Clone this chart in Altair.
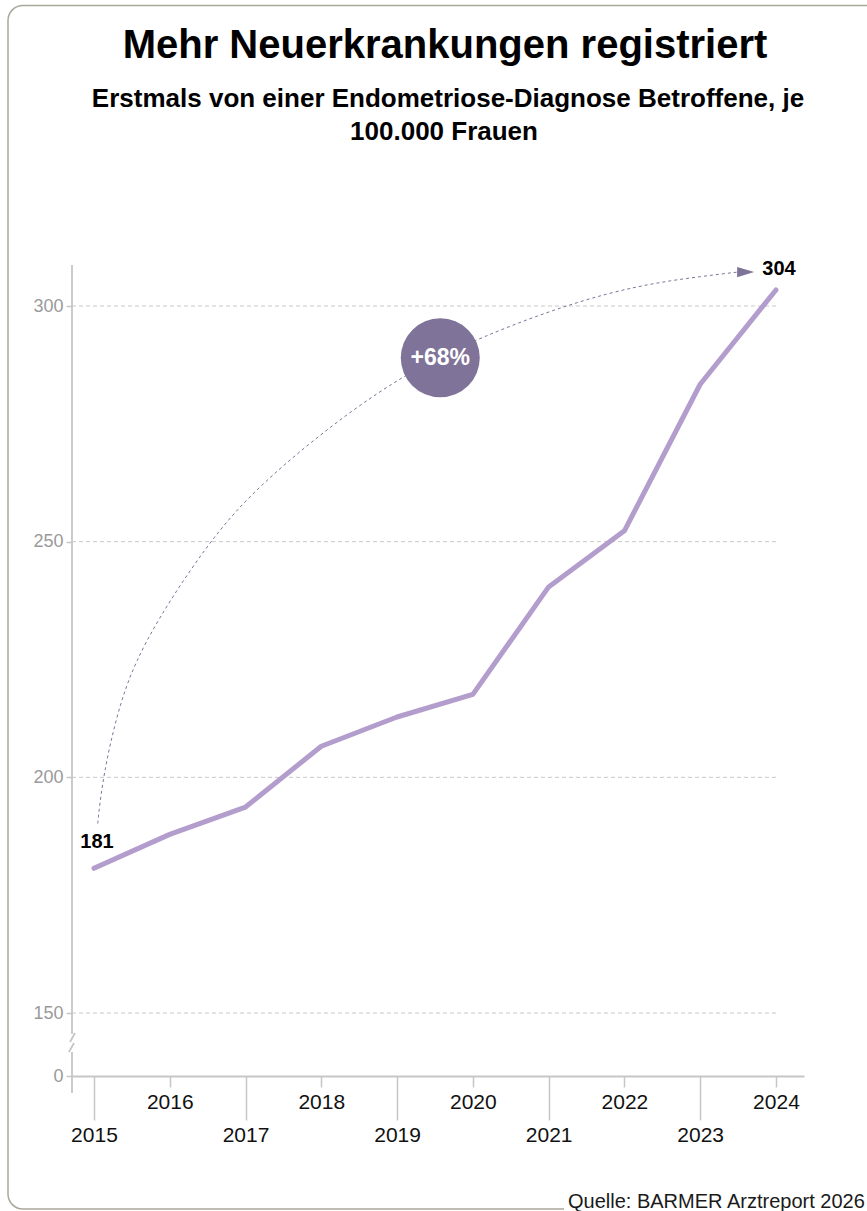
import altair as alt
import pandas as pd

# ---------------- data ----------------
years = [2015, 2016, 2017, 2018, 2019, 2020, 2021, 2022, 2023, 2024]
values = [180.7, 187.9, 193.7, 206.6, 212.8, 217.6, 240.4, 252.3, 283.4, 303.4]
y_ticks = [0, 150, 200, 250, 300]
grid_values = [150, 200, 250, 300]
end_label_first = "181"
end_label_last = "304"

# annotation: dashed arc from 2015 value to 2024 value (anchor points)
arc_year = [2015.05, 2015.06, 2015.12, 2015.30, 2015.60, 2016.50, 2017.23, 2018.77, 2020.05, 2021.85, 2023.17, 2023.50]
arc_value = [190.2, 192.0, 200.0, 213.6, 227.6, 249.9, 263.1, 282.8, 293.4, 303.8, 306.6, 307.2]
arrow_year = [2023.60]
arrow_value = [307.2]
badge_year = [2019.57]
badge_value = [289.0]
badge_text = ["+68%"]

title_text = "Mehr Neuerkrankungen registriert"
subtitle_lines = ["Erstmals von einer Endometriose-Diagnose Betroffene, je", "100.000 Frauen"]
source_text = "Quelle: BARMER Arztreport 2026"

# ---------------- layout ----------------
W, H = 732, 811
FONT = "Liberation Sans"
LINE_COLOR = "#b39dcc"
ACCENT = "#7f7399"
AXIS_GREY = "#c6c6c6"

xscale = alt.Scale(domain=[2014.71, 2024.37], nice=False, zero=False)
yscale = alt.Scale(domain=[0, 150, 300], range=[H, 748, 41], nice=False, zero=False)

x_axis = alt.Axis(
    values=years,
    format="d",
    title=None,
    grid=False,
    domainColor=AXIS_GREY,
    domainWidth=1.8,
    tickColor=AXIS_GREY,
    tickWidth=1.5,
    tickSize={"condition": {"test": "datum.value % 2 === 1", "value": 44}, "value": 11},
    labelPadding=4,
    labelFlush=False,
    labelFont=FONT,
    labelFontSize=21,
    labelColor="#111111",
    zindex=1,
)
y_axis = alt.Axis(
    values=y_ticks,
    title=None,
    domain=False,
    grid=False,
    tickColor=AXIS_GREY,
    tickSize=6,
    tickWidth=1.5,
    labelPadding=3,
    labelFont=FONT,
    labelFontSize=18,
    labelColor="#9a9a9a",
    zindex=1,
)

df = pd.DataFrame({"Jahr": years, "Wert": values})
df_grid = pd.DataFrame({"Wert": grid_values})
df_arc = pd.DataFrame({"Jahr": arc_year, "Wert": arc_value, "i": list(range(len(arc_year)))})
df_arrow = pd.DataFrame({"Jahr": arrow_year, "Wert": arrow_value})
df_badge = pd.DataFrame({"Jahr": badge_year, "Wert": badge_value, "t": badge_text})
one = pd.DataFrame({"a": [0]})

X = alt.X("Jahr:Q", scale=xscale, axis=x_axis)
Y = alt.Y("Wert:Q", scale=yscale, axis=y_axis)

frame = alt.Chart(one).mark_rect(
    fill="white", fillOpacity=0, stroke="#a9a79b", strokeWidth=1.5, cornerRadius=15
).encode(x=alt.value(-64), x2=alt.value(815), y=alt.value(-259.5), y2=alt.value(944))

source_bg = alt.Chart(one).mark_rect(fill="white").encode(
    x=alt.value(492), x2=alt.value(800), y=alt.value(930), y2=alt.value(952)
)

grid = alt.Chart(df_grid).mark_rule(color="#c8c8c8", strokeDash=[4, 3], strokeWidth=1).encode(
    y=Y, x=alt.value(0), x2=alt.value(706)
)

def seg(x1, y1, x2, y2):
    return alt.Chart(one).mark_rule(color=AXIS_GREY, strokeWidth=1.8).encode(
        x=alt.value(x1), y=alt.value(y1), x2=alt.value(x2), y2=alt.value(y2)
    )

yaxis_parts = [
    seg(0, 0, 0, 769),
    seg(3, 768, -2, 777),
    seg(2, 778, -3, 787),
    seg(0, 787, 0, 828),
]

line = alt.Chart(df).mark_line(
    color=LINE_COLOR, strokeWidth=5, strokeCap="round", strokeJoin="round"
).encode(x=X, y=Y)

arc = alt.Chart(df_arc).mark_line(
    color=ACCENT, strokeWidth=1, strokeDash=[3, 3], interpolate="basis"
).encode(x=X, y=Y, order="i:Q")

arrow = alt.Chart(df_arrow).mark_point(
    shape="M-1,-0.6L1,0L-1,0.6Z", filled=True, size=289, color=ACCENT, opacity=1
).encode(x=X, y=Y)

badge = alt.Chart(df_badge).mark_circle(size=6241, color=ACCENT, opacity=1).encode(x=X, y=Y)
badge_label = alt.Chart(df_badge).mark_text(
    color="white", font=FONT, fontSize=23, fontWeight="bold", align="center", baseline="middle"
).encode(x=X, y=Y, text="t:N")

first_label = alt.Chart(df.head(1)).mark_text(
    font=FONT, fontSize=20, fontWeight="bold", color="black", dx=3, dy=-26, baseline="middle"
).encode(x=X, y=Y, text=alt.value(end_label_first))

last_label = alt.Chart(df.tail(1)).mark_text(
    font=FONT, fontSize=20, fontWeight="bold", color="black", dx=3, dy=-21, baseline="middle"
).encode(x=X, y=Y, text=alt.value(end_label_last))

source = alt.Chart(one).mark_text(
    font=FONT, fontSize=20, color="#1a1a1a", align="left", baseline="alphabetic"
).encode(x=alt.value(496), y=alt.value(943), text=alt.value(source_text))

# title and subtitle as text marks (centered on the frame)
title_mark = alt.Chart(one).mark_text(
    font=FONT, fontSize=40, fontWeight="bold", color="black", align="center", baseline="alphabetic"
).encode(x=alt.value(373), y=alt.value(-207), text=alt.value(title_text))

sub1 = alt.Chart(one).mark_text(
    font=FONT, fontSize=26, fontWeight="bold", color="black", align="center", baseline="alphabetic"
).encode(x=alt.value(376), y=alt.value(-158), text=alt.value(subtitle_lines[0]))

sub2 = alt.Chart(one).mark_text(
    font=FONT, fontSize=26, fontWeight="bold", color="black", align="center", baseline="alphabetic"
).encode(x=alt.value(372), y=alt.value(-125), text=alt.value(subtitle_lines[1]))

chart = alt.layer(
    frame, source_bg, grid, *yaxis_parts, line, arc, arrow, badge, badge_label,
    first_label, last_label, source, title_mark, sub1, sub2,
).properties(
    width=W,
    height=H,
    padding={"left": 72, "top": 265, "right": 63, "bottom": 135},
    autosize=alt.AutoSizeParams(type="none"),
    background="white",
).configure_view(strokeWidth=0)

chart.save("out.html", embed_options={"renderer": "svg", "actions": False})
